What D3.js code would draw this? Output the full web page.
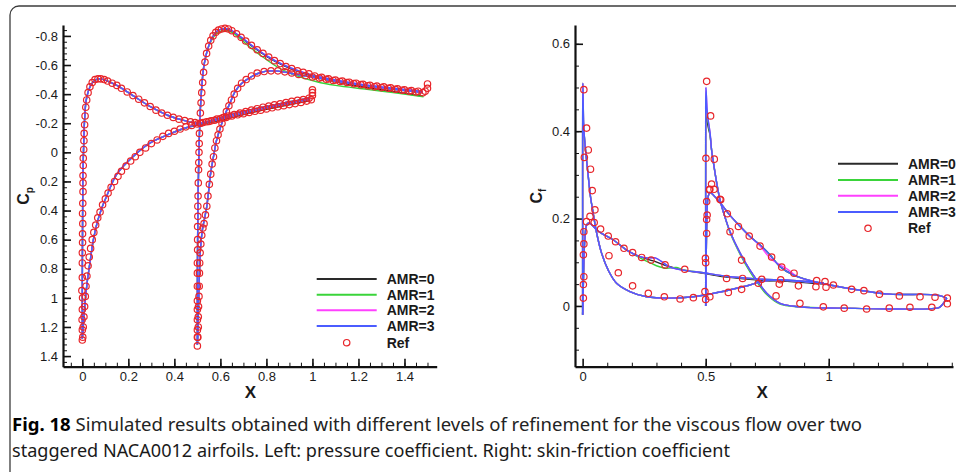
<!DOCTYPE html>
<html>
<head>
<meta charset="utf-8">
<script src="https://cdn.jsdelivr.net/npm/d3@7/dist/d3.min.js"></script>
<style>
  body { margin: 0; background: #fff; }
  text { font-family: "Liberation Sans", Arial, sans-serif; fill: #1a1a1a; }
</style>
</head>
<body>
<script>
var w = 956;
var h = 472;

// ---------- left chart: pressure coefficient ----------
var cpTicks = [-0.8, -0.6, -0.4, -0.2, 0, 0.2, 0.4, 0.6, 0.8, 1, 1.2, 1.4];
var xTicksLeft = [0, 0.2, 0.4, 0.6, 0.8, 1, 1.2, 1.4];

var cpUpper1Amr3 = [[0,1.28],[0,0.9],[0.001,0.5],[0.002,0.2],[0.005,0.0],[0.009,-0.2],[0.016,-0.35],[0.026,-0.42],[0.04,-0.47],[0.06,-0.5],[0.08,-0.505],[0.11,-0.49],[0.15,-0.46],[0.22,-0.39],[0.3,-0.31],[0.37,-0.255],[0.44,-0.22],[0.51,-0.2],[0.58,-0.228],[0.66,-0.265],[0.73,-0.292],[0.8,-0.316],[0.87,-0.338],[0.94,-0.358],[0.99,-0.375]];
var cpLower1Amr3 = [[0,1.28],[0.004,1.2],[0.012,1.03],[0.022,0.88],[0.033,0.76],[0.048,0.6],[0.065,0.48],[0.085,0.38],[0.106,0.3],[0.15,0.15],[0.22,0.03],[0.29,-0.06],[0.37,-0.12],[0.44,-0.165],[0.51,-0.195],[0.58,-0.22],[0.66,-0.252],[0.73,-0.28],[0.8,-0.305],[0.87,-0.328],[0.94,-0.35],[0.99,-0.365]];
var cpUpper2Amr3 = [[0.5,1.32],[0.5,1.0],[0.501,0.6],[0.503,0.3],[0.506,0.05],[0.509,-0.13],[0.513,-0.3],[0.519,-0.45],[0.527,-0.58],[0.538,-0.67],[0.55,-0.735],[0.565,-0.79],[0.583,-0.83],[0.605,-0.848],[0.625,-0.85],[0.645,-0.84],[0.67,-0.815],[0.7,-0.78],[0.745,-0.725],[0.8,-0.665],[0.87,-0.605],[0.95,-0.555],[1.02,-0.523],[1.1,-0.497],[1.2,-0.47],[1.3,-0.45],[1.4,-0.432],[1.48,-0.418]];
var cpLower2Amr3 = [[0.5,1.32],[0.502,1.25],[0.505,1.05],[0.509,0.83],[0.514,0.65],[0.522,0.53],[0.533,0.44],[0.541,0.37],[0.55,0.25],[0.558,0.14],[0.57,0.03],[0.583,-0.08],[0.6,-0.17],[0.62,-0.26],[0.642,-0.34],[0.665,-0.42],[0.69,-0.47],[0.72,-0.505],[0.76,-0.54],[0.8,-0.558],[0.85,-0.558],[0.9,-0.545],[0.95,-0.53],[1.02,-0.512],[1.1,-0.49],[1.2,-0.465],[1.3,-0.443],[1.4,-0.425],[1.48,-0.41]];
var cpUpper2Amr1 = [[0.5,1.32],[0.5,1.0],[0.501,0.6],[0.503,0.3],[0.506,0.05],[0.509,-0.13],[0.513,-0.3],[0.519,-0.45],[0.527,-0.58],[0.538,-0.67],[0.55,-0.73],[0.565,-0.78],[0.583,-0.815],[0.605,-0.832],[0.625,-0.835],[0.65,-0.825],[0.686,-0.782],[0.73,-0.72],[0.773,-0.669],[0.846,-0.588],[0.903,-0.543],[1.019,-0.485],[1.1,-0.46],[1.237,-0.433],[1.35,-0.41],[1.483,-0.382]];
var cpUpper2Amr0 = [[0.5,1.32],[0.5,1.0],[0.501,0.6],[0.503,0.3],[0.506,0.05],[0.509,-0.13],[0.513,-0.3],[0.519,-0.45],[0.527,-0.58],[0.538,-0.67],[0.55,-0.735],[0.565,-0.79],[0.583,-0.83],[0.605,-0.845],[0.625,-0.845],[0.645,-0.835],[0.67,-0.81],[0.7,-0.775],[0.745,-0.72],[0.8,-0.66],[0.87,-0.6],[0.95,-0.548],[1.02,-0.515],[1.1,-0.485],[1.2,-0.455],[1.3,-0.43],[1.4,-0.405],[1.48,-0.385]];
var cpLower1Amr0 = [[0,1.28],[0.004,1.2],[0.012,1.03],[0.022,0.88],[0.033,0.76],[0.048,0.6],[0.065,0.48],[0.085,0.38],[0.106,0.3],[0.15,0.15],[0.22,0.03],[0.29,-0.06],[0.37,-0.12],[0.44,-0.162],[0.51,-0.19],[0.58,-0.214],[0.66,-0.244],[0.73,-0.272],[0.8,-0.296],[0.87,-0.318],[0.94,-0.34],[0.99,-0.355]];

var refCpUpper1 = [[0,1.29],[0,1.22],[-0.001,1.15],[0,1.08],[0.001,1.0],[-0.002,0.95],[0,0.86],[0,0.76],[0,0.69],[0.001,0.62],[0.001,0.56],[0.002,0.49],[0.001,0.42],[0.002,0.35],[0.003,0.27],[0.003,0.21],[0.003,0.16],[0.004,0.09],[0.004,0.04],[0.006,-0.02],[0.007,-0.08],[0.008,-0.13],[0.01,-0.19],[0.012,-0.25],[0.015,-0.31],[0.019,-0.36],[0.025,-0.41],[0.033,-0.45],[0.043,-0.48],[0.055,-0.5],[0.068,-0.505],[0.08,-0.505],[0.095,-0.5],[0.11,-0.49],[0.13,-0.475],[0.15,-0.46],[0.17,-0.44],[0.195,-0.415],[0.22,-0.39],[0.245,-0.365],[0.27,-0.34],[0.295,-0.315],[0.32,-0.29],[0.345,-0.27],[0.37,-0.255],[0.395,-0.24],[0.42,-0.228],[0.445,-0.218],[0.47,-0.21],[0.49,-0.205],[0.515,-0.2],[0.54,-0.21],[0.56,-0.217],[0.585,-0.228],[0.61,-0.238],[0.635,-0.25],[0.66,-0.26],[0.685,-0.27],[0.71,-0.28],[0.735,-0.29],[0.76,-0.3],[0.785,-0.31],[0.81,-0.318],[0.835,-0.326],[0.86,-0.334],[0.885,-0.342],[0.91,-0.35],[0.935,-0.357],[0.96,-0.363],[0.985,-0.372],[1.0,-0.39],[1.0,-0.41],[1.0,-0.43]];
var refCpLower1 = [[0.002,1.27],[0.004,1.2],[0.007,1.13],[0.01,1.06],[0.013,0.99],[0.016,0.92],[0.02,0.85],[0.025,0.78],[0.03,0.72],[0.036,0.66],[0.043,0.6],[0.05,0.55],[0.058,0.5],[0.067,0.45],[0.077,0.41],[0.088,0.36],[0.1,0.32],[0.112,0.28],[0.125,0.24],[0.14,0.2],[0.155,0.165],[0.17,0.13],[0.19,0.095],[0.21,0.06],[0.23,0.03],[0.25,0.0],[0.275,-0.03],[0.3,-0.06],[0.325,-0.085],[0.35,-0.11],[0.375,-0.13],[0.4,-0.145],[0.425,-0.16],[0.45,-0.175],[0.475,-0.185],[0.5,-0.195],[0.525,-0.205],[0.55,-0.212],[0.575,-0.22],[0.6,-0.23],[0.625,-0.24],[0.65,-0.25],[0.675,-0.258],[0.7,-0.266],[0.725,-0.274],[0.75,-0.282],[0.775,-0.29],[0.8,-0.298],[0.825,-0.306],[0.85,-0.313],[0.875,-0.32],[0.9,-0.328],[0.925,-0.335],[0.95,-0.343],[0.975,-0.352],[0.995,-0.362]];
var refCpUpper2 = [[0.5,1.33],[0.5,1.27],[0.5,1.22],[0.5,1.15],[0.5,1.08],[0.5,1.02],[0.5,0.92],[0.5,0.83],[0.5,0.76],[0.501,0.67],[0.501,0.6],[0.501,0.51],[0.502,0.44],[0.502,0.37],[0.503,0.3],[0.504,0.21],[0.505,0.12],[0.506,0.07],[0.507,0.0],[0.508,-0.06],[0.509,-0.13],[0.511,-0.2],[0.513,-0.27],[0.516,-0.34],[0.519,-0.41],[0.523,-0.48],[0.527,-0.55],[0.533,-0.62],[0.54,-0.68],[0.549,-0.73],[0.558,-0.77],[0.568,-0.8],[0.58,-0.825],[0.592,-0.84],[0.605,-0.848],[0.62,-0.852],[0.635,-0.848],[0.65,-0.836],[0.67,-0.815],[0.69,-0.79],[0.71,-0.765],[0.735,-0.735],[0.76,-0.705],[0.785,-0.68],[0.81,-0.655],[0.835,-0.63],[0.86,-0.61],[0.885,-0.59],[0.91,-0.575],[0.935,-0.56],[0.96,-0.55],[0.985,-0.54],[1.01,-0.525],[1.04,-0.515],[1.07,-0.505],[1.1,-0.497],[1.13,-0.49],[1.16,-0.482],[1.19,-0.475],[1.22,-0.468],[1.25,-0.46],[1.28,-0.455],[1.31,-0.45],[1.34,-0.443],[1.37,-0.437],[1.4,-0.43],[1.43,-0.425],[1.46,-0.42],[1.49,-0.42],[1.5,-0.44],[1.5,-0.47]];
var refCpLower2 = [[0.502,1.27],[0.504,1.2],[0.504,1.13],[0.505,1.06],[0.507,0.99],[0.508,0.92],[0.509,0.83],[0.51,0.76],[0.512,0.69],[0.515,0.63],[0.519,0.57],[0.524,0.52],[0.529,0.49],[0.535,0.43],[0.541,0.37],[0.546,0.3],[0.552,0.22],[0.558,0.15],[0.564,0.08],[0.57,0.03],[0.576,-0.03],[0.583,-0.08],[0.59,-0.12],[0.598,-0.16],[0.607,-0.2],[0.616,-0.24],[0.626,-0.28],[0.637,-0.32],[0.648,-0.36],[0.66,-0.4],[0.675,-0.44],[0.692,-0.475],[0.712,-0.5],[0.735,-0.525],[0.76,-0.545],[0.79,-0.555],[0.82,-0.56],[0.85,-0.56],[0.88,-0.553],[0.91,-0.545],[0.94,-0.535],[0.97,-0.527],[1.0,-0.518],[1.03,-0.51],[1.06,-0.502],[1.09,-0.494],[1.12,-0.487],[1.15,-0.48],[1.18,-0.472],[1.21,-0.465],[1.24,-0.458],[1.27,-0.451],[1.3,-0.445],[1.33,-0.44],[1.36,-0.433],[1.39,-0.427],[1.42,-0.42],[1.45,-0.415],[1.48,-0.41]];

// ---------- right chart: skin-friction coefficient ----------
var cfTicks = [0, 0.2, 0.4, 0.6];
var xTicksRight = [0, 0.5, 1];

var cfSpike1Amr3 = [[0,-0.02],[0,0.2],[0,0.4],[0.001,0.51],[0.004,0.42],[0.008,0.38],[0.013,0.35],[0.023,0.296],[0.032,0.25],[0.043,0.212],[0.057,0.167],[0.077,0.121],[0.104,0.082],[0.138,0.052],[0.192,0.033],[0.26,0.021],[0.355,0.018],[0.45,0.021],[0.517,0.027],[0.6,0.037],[0.68,0.048],[0.72,0.055],[0.79,0.06],[0.88,0.057],[0.98,0.052]];
var cfSpike1Amr0 = [[0,-0.02],[0,0.2],[0,0.38],[0.001,0.43],[0.004,0.41],[0.008,0.38],[0.013,0.35],[0.023,0.296],[0.032,0.25],[0.043,0.212],[0.057,0.167],[0.077,0.121],[0.104,0.082],[0.138,0.052],[0.192,0.033],[0.26,0.021],[0.355,0.018],[0.45,0.021],[0.517,0.027],[0.6,0.037],[0.68,0.048],[0.72,0.055],[0.79,0.058],[0.88,0.056],[0.98,0.052]];
var cfB1Amr3 = [[0,-0.02],[0.003,0.05],[0.006,0.12],[0.01,0.16],[0.016,0.185],[0.025,0.19],[0.035,0.187],[0.05,0.178],[0.077,0.166],[0.125,0.151],[0.179,0.128],[0.233,0.113],[0.265,0.11],[0.295,0.11],[0.325,0.1],[0.355,0.089],[0.409,0.082],[0.49,0.076],[0.585,0.068],[0.707,0.062],[0.843,0.058],[0.98,0.052]];
var cfB1Amr1 = [[0,-0.02],[0.003,0.05],[0.006,0.12],[0.01,0.16],[0.016,0.185],[0.025,0.19],[0.035,0.187],[0.05,0.178],[0.077,0.166],[0.125,0.151],[0.179,0.128],[0.233,0.11],[0.27,0.1],[0.3,0.092],[0.34,0.086],[0.38,0.088],[0.409,0.083],[0.49,0.076],[0.585,0.068],[0.707,0.062],[0.843,0.058],[0.98,0.052]];
var cfB1Amr0 = [[0,-0.02],[0.003,0.05],[0.006,0.12],[0.01,0.16],[0.016,0.185],[0.025,0.19],[0.035,0.187],[0.05,0.178],[0.077,0.166],[0.125,0.151],[0.179,0.128],[0.233,0.113],[0.287,0.103],[0.341,0.092],[0.409,0.082],[0.49,0.075],[0.585,0.066],[0.707,0.06],[0.843,0.056],[0.98,0.05]];
var cfSpike2Amr3 = [[0.5,0.0],[0.5,0.2],[0.5,0.4],[0.501,0.5],[0.507,0.44],[0.518,0.395],[0.524,0.357],[0.534,0.319],[0.545,0.281],[0.558,0.243],[0.578,0.204],[0.599,0.17],[0.64,0.121],[0.68,0.082],[0.707,0.06],[0.748,0.029],[0.802,0.006],[0.883,-0.002],[1.045,-0.005],[1.249,-0.007],[1.42,-0.006],[1.45,-0.003],[1.48,0.018]];
var cfSpike2Amr0 = [[0.5,0.0],[0.5,0.2],[0.5,0.38],[0.502,0.434],[0.51,0.41],[0.518,0.39],[0.524,0.357],[0.534,0.319],[0.545,0.281],[0.558,0.243],[0.578,0.204],[0.599,0.17],[0.64,0.121],[0.68,0.082],[0.707,0.06],[0.748,0.029],[0.802,0.006],[0.883,-0.002],[1.045,-0.005],[1.249,-0.007],[1.42,-0.006],[1.45,-0.003],[1.48,0.018]];
var cfSpike2Amr1 = [[0.5,0.0],[0.5,0.2],[0.5,0.4],[0.502,0.455],[0.51,0.42],[0.518,0.39],[0.524,0.357],[0.534,0.319],[0.545,0.281],[0.558,0.243],[0.578,0.204],[0.599,0.168],[0.64,0.118],[0.68,0.078],[0.707,0.056],[0.748,0.026],[0.802,0.004],[0.883,-0.002],[1.045,-0.005],[1.249,-0.007],[1.42,-0.006],[1.45,-0.003],[1.48,0.018]];
var cfB2Amr3 = [[0.5,0.0],[0.502,0.1],[0.505,0.2],[0.51,0.25],[0.517,0.26],[0.531,0.254],[0.558,0.237],[0.592,0.212],[0.64,0.182],[0.68,0.159],[0.72,0.14],[0.761,0.117],[0.802,0.09],[0.856,0.071],[0.911,0.06],[1.005,0.048],[1.114,0.037],[1.249,0.027],[1.439,0.025],[1.48,0.018]];
var cfB2Amr2 = [[0.5,0.0],[0.502,0.1],[0.505,0.2],[0.51,0.25],[0.517,0.26],[0.531,0.254],[0.558,0.237],[0.592,0.212],[0.64,0.182],[0.68,0.159],[0.72,0.138],[0.761,0.11],[0.79,0.098],[0.83,0.085],[0.87,0.068],[0.911,0.06],[1.005,0.048],[1.114,0.037],[1.249,0.027],[1.439,0.025],[1.48,0.018]];

var refCfSpike1 = [[0.005,0.495],[0.016,0.407],[0.007,0.34],[0.023,0.357],[0.032,0.313],[0.039,0.264],[0.05,0.22],[0.107,0.115],[0.145,0.076],[0.203,0.046],[0.267,0.029],[0.332,0.021],[0.396,0.016],[0.45,0.019],[0.517,0.021],[0.592,0.031],[0.646,0.038],[0.799,0.05],[0.877,0.046],[0.948,0.044],[0.989,0.043]];
var refCfB1 = [[0.003,0.018],[0.003,0.049],[0.005,0.067],[0.003,0.117],[0.005,0.142],[0.005,0.17],[0.016,0.193],[0.03,0.205],[0.047,0.191],[0.073,0.176],[0.104,0.16],[0.134,0.147],[0.168,0.132],[0.203,0.122],[0.24,0.111],[0.278,0.105],[0.335,0.094],[0.415,0.084],[0.585,0.063],[0.65,0.063],[0.728,0.061],[0.805,0.06],[0.951,0.058],[0.985,0.056]];
var refCfSpike2 = [[0.504,0.514],[0.52,0.435],[0.501,0.338],[0.535,0.336],[0.524,0.279],[0.558,0.244],[0.599,0.17],[0.646,0.105],[0.714,0.052],[0.786,0.023],[0.883,0.006],[0.978,-0.002],[1.063,-0.005],[1.154,-0.007],[1.246,-0.005],[1.33,-0.003],[1.419,-0.003],[1.482,0.005]];
var refCfB2 = [[0.5,0.015],[0.497,0.033],[0.5,0.099],[0.499,0.109],[0.504,0.166],[0.504,0.198],[0.506,0.208],[0.504,0.239],[0.515,0.266],[0.517,0.267],[0.534,0.267],[0.561,0.243],[0.588,0.211],[0.633,0.182],[0.677,0.16],[0.721,0.137],[0.768,0.112],[0.809,0.089],[0.859,0.075],[1.019,0.048],[1.093,0.038],[1.143,0.035],[1.206,0.027],[1.287,0.023],[1.371,0.021],[1.432,0.02],[1.482,0.018]];

var legendLabels = ['AMR=0', 'AMR=1', 'AMR=2', 'AMR=3', 'Ref'];
var seriesColors = ['#2a2a2a', '#3ad43a', '#ff40ff', '#4b5cff'];
var refColor = '#e8252a';

var captionBold = 'Fig. 18';
var captionLine1 = 'Simulated results obtained with different levels of refinement for the viscous flow over two';
var captionLine2 = 'staggered NACA0012 airfoils. Left: pressure coefficient. Right: skin-friction coefficient';

var svg = d3.select('body').append('svg').attr('width', w).attr('height', h);

// figure frame
svg.append('rect')
  .attr('x', 10).attr('y', 6).attr('width', 1000).attr('height', 600).attr('rx', 9)
  .attr('fill', 'none').attr('stroke', '#3c3c3c').attr('stroke-width', 1.3);

function drawPanel(cfg) {
  var g = svg.append('g');
  var x = d3.scaleLinear().domain(cfg.xDomain).range([cfg.left, cfg.right]);
  var y = d3.scaleLinear().domain(cfg.yDomain).range([cfg.bottom, cfg.top]);

  // minor ticks
  g.append('g').attr('transform', 'translate(0,' + cfg.bottom + ')')
    .call(d3.axisBottom(x).tickValues(cfg.xMinor).tickSizeInner(-4).tickSizeOuter(0).tickFormat(''))
    .call(function(a) { a.select('.domain').remove(); a.selectAll('line').attr('stroke', '#111'); });
  g.append('g').attr('transform', 'translate(' + cfg.left + ',0)')
    .call(d3.axisLeft(y).tickValues(cfg.yMinor).tickSizeInner(-4).tickSizeOuter(0).tickFormat(''))
    .call(function(a) { a.select('.domain').remove(); a.selectAll('line').attr('stroke', '#111'); });

  // major ticks + labels
  var xa = g.append('g').attr('transform', 'translate(0,' + cfg.bottom + ')')
    .call(d3.axisBottom(x).tickValues(cfg.xTicks).tickSizeInner(-8).tickSizeOuter(0).tickPadding(5)
      .tickFormat(function(d) { return String(d); }));
  var ya = g.append('g').attr('transform', 'translate(' + cfg.left + ',0)')
    .call(d3.axisLeft(y).tickValues(cfg.yTicks).tickSizeInner(-8).tickSizeOuter(0).tickPadding(5)
      .tickFormat(function(d) { return String(d); }));
  [xa, ya].forEach(function(a) {
    a.selectAll('text').attr('font-size', 13).attr('fill', '#1a1a1a');
    a.selectAll('line').attr('stroke', '#111').attr('stroke-width', 1.6);
    a.select('.domain').attr('stroke', '#111').attr('stroke-width', 2.2);
  });

  // axis titles
  g.append('text').attr('x', x(cfg.xTitleAt)).attr('y', 398)
    .attr('text-anchor', 'middle').attr('font-size', 17).attr('font-weight', 'bold').text('X');
  var yt = g.append('text').attr('transform', 'translate(' + cfg.yTitleX + ',196) rotate(-90)')
    .attr('text-anchor', 'middle').attr('font-weight', 'bold');
  yt.append('tspan').attr('font-size', 16).text('C');
  yt.append('tspan').attr('font-size', 10).attr('dy', 4).text(cfg.sub);

  var line = d3.line()
    .x(function(d) { return x(d[0]); })
    .y(function(d) { return y(d[1]); })
    .curve(d3.curveCatmullRom.alpha(0.5));

  cfg.series.forEach(function(s, i) {
    g.selectAll(null).data(s).enter().append('path')
      .attr('d', line)
      .attr('fill', 'none')
      .attr('stroke', seriesColors[i])
      .attr('stroke-width', 1.4);
  });

  g.selectAll(null).data(d3.merge(cfg.refs)).enter().append('circle')
    .attr('cx', function(d) { return x(d[0]); })
    .attr('cy', function(d) { return y(d[1]); })
    .attr('r', 3.2)
    .attr('fill', 'none')
    .attr('stroke', refColor)
    .attr('stroke-width', 1.2);

  // legend
  var lg = g.selectAll('.leg').data(legendLabels).enter().append('g')
    .attr('transform', function(d, i) { return 'translate(' + cfg.legX + ',' + cfg.legY[i] + ')'; });
  lg.filter(function(d, i) { return i < 4; }).append('line')
    .attr('x1', 0).attr('x2', 60).attr('y1', 0).attr('y2', 0)
    .attr('stroke', function(d, i) { return seriesColors[i]; }).attr('stroke-width', 2);
  lg.filter(function(d, i) { return i === 4; }).append('circle')
    .attr('cx', 30).attr('cy', 0).attr('r', 3.2)
    .attr('fill', 'none').attr('stroke', refColor).attr('stroke-width', 1.2);
  lg.append('text').attr('x', 70).attr('y', 5)
    .attr('font-size', 14).attr('font-weight', 'bold').text(function(d) { return d; });
}

drawPanel({
  left: 63, right: 436.7, top: 25, bottom: 366.7,
  xDomain: [-0.084, 1.54], yDomain: [1.473, -0.875],
  xTicks: xTicksLeft, yTicks: cpTicks,
  xMinor: d3.range(-0.05, 1.52, 0.05), yMinor: d3.range(-0.84, 1.46, 0.04),
  xTitleAt: 0.73, yTitleX: 29, sub: 'p',
  series: [
    [cpUpper1Amr3, cpLower1Amr0, cpUpper2Amr0, cpLower2Amr3],
    [cpUpper1Amr3, cpLower1Amr3, cpUpper2Amr1, cpLower2Amr3],
    [cpUpper1Amr3, cpLower1Amr3, cpUpper2Amr3, cpLower2Amr3],
    [cpUpper1Amr3, cpLower1Amr3, cpUpper2Amr3, cpLower2Amr3]
  ],
  refs: [refCpUpper1, refCpLower1, refCpUpper2, refCpLower2],
  legX: 316.7, legY: [279, 294.7, 310.3, 326, 342.7]
});

drawPanel({
  left: 575, right: 953, top: 25, bottom: 366.7,
  xDomain: [-0.031, 1.505], yDomain: [-0.139, 0.643],
  xTicks: xTicksRight, yTicks: cfTicks,
  xMinor: d3.range(0.1, 1.51, 0.1), yMinor: d3.range(-0.1, 0.61, 0.05),
  xTitleAt: 0.73, yTitleX: 542, sub: 'f',
  series: [
    [cfSpike1Amr0, cfB1Amr0, cfSpike2Amr0, cfB2Amr3],
    [cfSpike1Amr3, cfB1Amr1, cfSpike2Amr1, cfB2Amr3],
    [cfSpike1Amr3, cfB1Amr3, cfSpike2Amr3, cfB2Amr2],
    [cfSpike1Amr3, cfB1Amr3, cfSpike2Amr3, cfB2Amr3]
  ],
  refs: [refCfSpike1, refCfB1, refCfSpike2, refCfB2],
  legX: 838, legY: [163.7, 180, 195.7, 212, 228.3]
});

// caption
var c1 = svg.append('text').attr('x', 12).attr('y', 431)
  .attr('font-size', 18.5).attr('textLength', 850).attr('lengthAdjust', 'spacingAndGlyphs')
  .style('font-family', '"Noto Sans", sans-serif');
c1.append('tspan').attr('font-weight', 'bold').attr('fill', '#000').text(captionBold);
c1.append('tspan').attr('fill', '#232323').text('  ' + captionLine1);
svg.append('text').attr('x', 12).attr('y', 457)
  .attr('font-size', 18.5).attr('textLength', 718).attr('lengthAdjust', 'spacingAndGlyphs')
  .attr('fill', '#232323')
  .style('font-family', '"Noto Sans", sans-serif')
  .text(captionLine2);
</script>
</body>
</html>
